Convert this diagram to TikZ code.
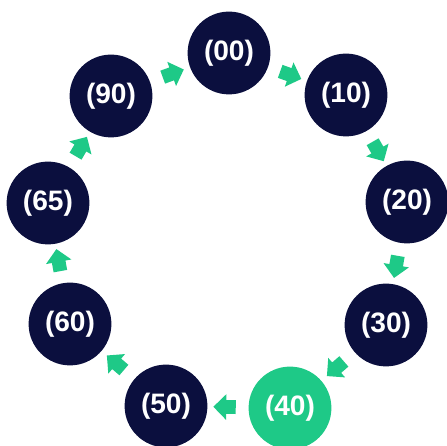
\documentclass[tikz,border=0pt]{standalone}
\usepackage{fontspec}
\setmainfont{Liberation Sans}
\usepackage{tikz}
\usetikzlibrary{shapes,arrows,positioning,calc}

\definecolor{navyc}{RGB}{11,15,62}
\definecolor{greenc}{RGB}{30,201,135}

\tikzset{
    stage/.style={circle, fill=navyc, text=white, minimum size=2.07cm, inner sep=0pt,
        font=\fontsize{20}{24}\selectfont\bfseries},
    current/.style={stage, fill=greenc},
    garrow/.style={single arrow, fill=greenc, inner xsep=0pt, inner ysep=0.165cm,
        minimum height=0.56cm, single arrow head extend=0.15cm, sloped, allow upside down}
}

\begin{document}
\begin{tikzpicture}
    \useasboundingbox (0,0) rectangle (11.175,11.15);

    \node[stage] (s00) at (5.725,9.825) {(00)};
    \node[stage] (s10) at (8.65,8.775) {(10)};
    \node[stage] (s20) at (10.175,6.1) {(20)};
    \node[stage] (s30) at (9.65,3.025) {(30)};
    \node[current] (s40) at (7.25,0.95) {(40)};
    \node[stage] (s50) at (4.15,1.0) {(50)};
    \node[stage] (s60) at (1.75,3.05) {(60)};
    \node[stage] (s65) at (1.2,6.075) {(65)};
    \node[stage] (s90) at (2.775,8.75) {(90)};

    \path (s90) -- node[garrow] (a1) {} (s00);
    \path (s00) -- node[garrow] (a2) {} (s10);
    \path (s10) -- node[garrow] (a3) {} (s20);
    \path (s20) -- node[garrow] (a4) {} (s30);
    \path (s30) -- node[garrow] (a5) {} (s40);
    \path (s40) -- node[garrow] (a6) {} (s50);
    \path (s50) -- node[garrow] (a7) {} (s60);
    \path (s60) -- node[garrow] (a8) {} (s65);
    \path (s65) -- node[garrow] (a9) {} (s90);
\end{tikzpicture}
\end{document}
